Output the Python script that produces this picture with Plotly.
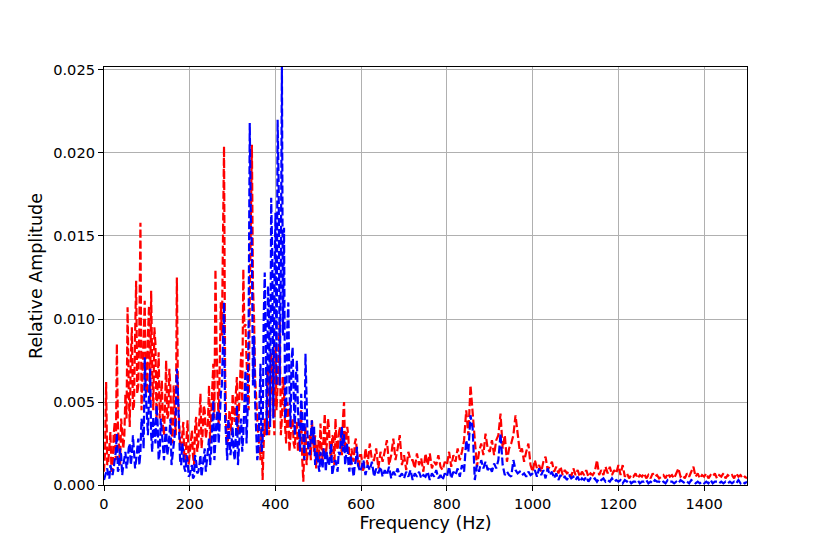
import plotly.graph_objects as go
import numpy as np

# Spectrum sampled every 5 Hz, amplitudes given in units of 1e-4
freq_step = 5

red_amp = [
    8, 62, 14, 32, 10, 38, 85, 18, 40, 22,          # 0-45 Hz
    55, 107, 35, 95, 48, 123, 60, 158, 70, 111,     # 50-95
    55, 108, 117, 45, 85, 65, 40, 63, 30, 75,       # 100-145
    42, 58, 25, 48, 125, 40, 22, 38, 15, 39,        # 150-195
    20, 33, 12, 41, 25, 55, 30, 45, 35, 60,         # 200-245
    42, 73, 130, 50, 73, 90, 204, 35, 28, 40,       # 250-295
    55, 38, 65, 45, 80, 130, 97, 60, 110, 205,      # 300-345
    101, 48, 30, 15, 3, 40, 55, 30, 80, 45,         # 350-395
    85, 60, 99, 40, 55, 25, 45, 30, 40, 22,         # 400-445
    38, 28, 45, 2, 35, 20, 30, 39, 20, 10,          # 450-495
    27, 37, 15, 43, 25, 34, 15, 28, 40, 21,         # 500-545
    35, 18, 50, 30, 29, 12, 16, 25, 20, 11,         # 550-595
    18, 8, 22, 12, 25, 15, 15, 22, 10, 20,          # 600-645
    14, 20, 27, 12, 18, 28, 15, 22, 30, 12,         # 650-695
    18, 9, 20, 15, 15, 10, 19, 12, 16, 8,           # 700-745
    19, 12, 19, 10, 14, 12, 18, 11, 9, 14,          # 750-795
    12, 20, 11, 18, 14, 22, 15, 20, 27, 45,         # 800-845
    30, 60, 45, 25, 11, 20, 25, 18, 31, 22,         # 850-895
    20, 27, 18, 27, 30, 43, 22, 30, 14, 22,         # 900-945
    25, 30, 42, 31, 20, 22, 14, 20, 25, 12,         # 950-995
    8, 15, 10, 12, 8, 14, 17, 9, 12, 14,            # 1000-1045
    8, 11, 7, 11, 6, 9, 7, 8, 5, 10,                # 1050-1095
    6, 9, 5, 8, 6, 9, 5, 7, 6, 8,                   # 1100-1145
    15, 6, 9, 6, 11, 7, 11, 6, 9, 7,                # 1150-1195
    12, 6, 12, 5, 7, 4, 6, 5, 7, 4,                 # 1200-1245
    6, 5, 7, 4, 6, 4, 7, 5, 6, 4,                   # 1250-1295
    5, 6, 4, 7, 5, 6, 4, 7, 10, 5,                  # 1300-1345
    6, 4, 7, 5, 8, 11, 5, 7, 4, 6,                  # 1350-1395
    5, 7, 4, 6, 5, 7, 4, 6, 5, 7,                   # 1400-1445
    4, 6, 5, 6, 4, 7, 5, 6, 4, 5,                   # 1450-1495
    4,                                              # 1500
]

# extra samples half way between the 5 Hz points, 2.5 .. 597.5 Hz
red_half = [
    20, 12, 25, 8, 30, 15, 35, 12, 28, 30,
    40, 60, 75, 45, 90, 55, 95, 45, 85, 60,
    90, 50, 70, 95, 40, 80, 55, 35, 50, 40,
    70, 35, 60, 30, 55, 25, 30, 15, 28, 12,
    28, 18, 35, 20, 40, 22, 48, 28, 38, 25,
    60, 40, 85, 35, 110, 150, 70, 25, 45, 30,
    42, 55, 30, 70, 50, 95, 75, 45, 150, 120,
    65, 40, 20, 35, 25, 30, 70, 40, 60, 30,
    45, 75, 30, 65, 35, 50, 20, 38, 25, 35,
    20, 40, 15, 25, 12, 28, 15, 25, 30, 22,
    15, 22, 30, 18, 40, 20, 30, 12, 25, 30,
    25, 40, 20, 35, 15, 22, 14, 28, 12, 18,
]

blue_amp = [
    3, 8, 5, 12, 6, 15, 31, 10, 18, 12,             # 0-45 Hz
    20, 14, 25, 18, 21, 15, 28, 20, 35, 77,         # 50-95
    45, 55, 30, 41, 25, 38, 20, 30, 15, 35,         # 100-145
    22, 40, 18, 30, 70, 25, 12, 20, 8, 15,          # 150-195
    6, 12, 5, 14, 8, 18, 10, 22, 15, 28,            # 200-245
    20, 51, 30, 45, 38, 60, 110, 25, 40, 18,        # 250-295
    35, 15, 48, 25, 40, 30, 69, 45, 218, 143,       # 300-345
    90, 32, 20, 73, 25, 128, 30, 105, 173, 40,      # 350-395
    164, 220, 60, 252, 155, 45, 110, 35, 83, 30,    # 400-445
    75, 30, 55, 25, 79, 27, 18, 39, 35, 15,         # 450-495
    12, 20, 10, 18, 20, 12, 25, 10, 15, 8,          # 500-545
    18, 35, 31, 20, 13, 18, 8, 12, 23, 10,          # 550-595
    10, 15, 6, 12, 9, 14, 5, 10, 7, 11,             # 600-645
    5, 9, 6, 11, 4, 8, 6, 10, 5, 7,                 # 650-695
    4, 8, 5, 9, 3, 7, 5, 8, 4, 6,                   # 700-745
    5, 8, 3, 7, 5, 9, 4, 6, 3, 7,                   # 750-795
    5, 11, 4, 8, 6, 10, 5, 12, 8, 27,               # 800-845
    20, 42, 34, 3, 12, 8, 15, 10, 14, 9,            # 850-895
    11, 8, 13, 10, 15, 31, 12, 6, 8, 6,             # 900-945
    5, 15, 9, 7, 8, 6, 7, 5, 8, 6,                  # 950-995
    7, 9, 5, 10, 6, 9, 4, 10, 6, 8,                 # 1000-1045
    4, 7, 3, 6, 4, 5, 3, 6, 4, 5,                   # 1050-1095
    3, 5, 2, 4, 3, 5, 2, 4, 3, 4,                   # 1100-1145
    2, 4, 3, 4, 2, 3, 2, 4, 2, 3,                   # 1150-1195
    2, 3, 1, 3, 2, 3, 1, 2, 2, 3,                   # 1200-1245
    1, 2, 2, 3, 1, 2, 1, 3, 2, 2,                   # 1250-1295
    1, 2, 1, 3, 2, 2, 1, 2, 1, 3,                   # 1300-1345
    2, 1, 2, 1, 3, 2, 1, 2, 1, 2,                   # 1350-1395
    1, 2, 1, 3, 1, 2, 2, 1, 2, 1,                   # 1400-1445
    2, 1, 2, 1, 2, 1, 3, 1, 2, 1,                   # 1450-1495
    2,                                              # 1500
]

blue_half = [
    5, 10, 4, 8, 10, 20, 8, 22, 6, 16,
    10, 22, 12, 30, 10, 25, 12, 40, 22, 55,
    30, 70, 20, 35, 48, 15, 40, 22, 28, 18,
    30, 12, 25, 45, 55, 15, 25, 10, 18, 5,
    10, 4, 18, 7, 12, 5, 15, 8, 20, 12,
    35, 15, 40, 25, 55, 90, 40, 15, 30, 25,
    20, 30, 12, 35, 20, 50, 25, 100, 160, 60,
    50, 15, 45, 20, 100, 85, 120, 35, 140, 120,
    60, 180, 130, 90, 40, 95, 60, 75, 55, 65,
    45, 20, 40, 15, 50, 20, 30, 25, 12, 20,
    8, 14, 22, 8, 12, 18, 6, 14, 10, 20,
    28, 20, 12, 25, 8, 14, 5, 15, 12, 8,
]

y_ticks = [0.0, 0.005, 0.010, 0.015, 0.020, 0.025]
x_ticks = [0, 200, 400, 600, 800, 1000, 1200, 1400]

print(len(red_amp), len(blue_amp), len(red_half), len(blue_half), flush=True)


def merge(main, half):
    f = np.concatenate([np.arange(len(main)) * freq_step,
                        np.arange(len(half)) * freq_step + freq_step / 2])
    a = np.concatenate([main, half]) * 1e-4
    order = np.argsort(f, kind='stable')
    return f[order], a[order]


red_f, red_y = merge(red_amp, red_half)
blue_f, blue_y = merge(blue_amp, blue_half)

fig = go.Figure()

fig.add_trace(go.Scatter(
    x=red_f, y=red_y, mode='lines',
    line=dict(color='#ff0000', width=2.2, dash='8px,3px'),
    showlegend=False
))
fig.add_trace(go.Scatter(
    x=blue_f, y=blue_y, mode='lines',
    line=dict(color='#0000ff', width=2.2, dash='8px,3px'),
    showlegend=False
))

axis_common = dict(
    showline=True, mirror=True, linecolor='black', linewidth=1.2,
    ticks='outside', ticklen=5, tickwidth=1.2, tickcolor='black',
    showgrid=True, gridcolor='#b0b0b0', gridwidth=1.2,
    zeroline=False,
    tickfont=dict(family='DejaVu Sans', size=14.6, color='black'),
)

# page body adds an 8px offset, margins are shifted to compensate
fig.update_layout(
    width=830,
    height=554,
    margin=dict(l=96, r=91, t=59, b=77),
    plot_bgcolor='white',
    paper_bgcolor='white',
    font=dict(family='DejaVu Sans', color='black'),
    xaxis=dict(
        axis_common,
        range=[0, 1500],
        tickvals=x_ticks,
        title=dict(text='Frequency (Hz)', font=dict(size=17.5), standoff=6),
    ),
    yaxis=dict(
        axis_common,
        range=[0, 0.02518],
        tickvals=y_ticks,
        tickformat='.3f',
        title=dict(text='Relative Amplitude', font=dict(size=17.5), standoff=6),
    ),
)

fig.write_html("out.html")
